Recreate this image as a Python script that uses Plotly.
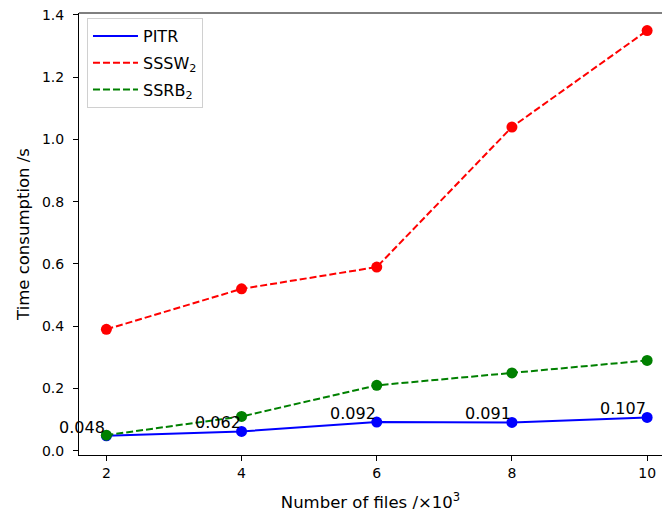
import plotly.graph_objects as go

files_k = [2, 4, 6, 8, 10]
pitr = [0.048, 0.062, 0.092, 0.091, 0.107]
sssw2 = [0.39, 0.52, 0.59, 1.04, 1.35]
ssrb2 = [0.05, 0.11, 0.21, 0.25, 0.29]
pitr_labels = ["0.048", "0.062", "0.092", "0.091", "0.107"]

FONT = "DejaVu Sans"
fig = go.Figure()

series = [
    ("PITR", pitr, "#0000ff", "solid"),
    ("SSSW<sub>2</sub>", sssw2, "#ff0000", "7px,3px"),
    ("SSRB<sub>2</sub>", ssrb2, "#008000", "7px,3px"),
]
for i, (name, ys, col, dash) in enumerate(series):
    fig.add_trace(go.Scatter(x=files_k, y=ys, mode="lines", name=name,
                             line=dict(color=col, width=2, dash=dash),
                             legendgroup=f"g{i}"))
for name, ys, col, dash in series:
    fig.add_trace(go.Scatter(x=files_k, y=ys, mode="markers", showlegend=False,
                             marker=dict(color=col, size=11, line=dict(width=0))))

# value labels for PITR: right-aligned just left of each point
for xv, yv, t in zip(files_k, pitr, pitr_labels):
    fig.add_annotation(x=xv, y=yv, text=t, showarrow=False,
                       xanchor="right", yanchor="bottom", xshift=1, yshift=-3,
                       font=dict(family=FONT, size=16, color="black"))

fig.update_layout(
    width=662, height=512,
    margin=dict(l=79, r=0, t=13, b=57),
    paper_bgcolor="white", plot_bgcolor="white",
    font=dict(family=FONT, size=14, color="black"),
    legend=dict(x=0.0137, y=0.9887, xanchor="left", yanchor="top",
                bgcolor="white", bordercolor="#d0d0d0", borderwidth=1,
                font=dict(family=FONT, size=16), tracegroupgap=3,
                itemwidth=45),
    showlegend=True,
)
fig.update_xaxes(range=[1.595, 10.22], tickvals=files_k, ticktext=[str(v) for v in files_k],
                 showgrid=False, zeroline=False, showline=True, linecolor="black",
                 linewidth=1, ticks="outside", ticklen=5, tickcolor="black",
                 tickfont=dict(family=FONT, size=14),
                 title=dict(text="Number of files /×10<sup>3</sup>", standoff=16,
                            font=dict(family=FONT, size=16.5)))
fig.update_yaxes(range=[-0.0138, 1.4064], tickvals=[0, 0.2, 0.4, 0.6, 0.8, 1.0, 1.2, 1.4],
                 tickformat=".1f",
                 showgrid=False, zeroline=False, showline=True, linecolor="black",
                 linewidth=1, ticks="outside", ticklen=5, tickcolor="black",
                 tickfont=dict(family=FONT, size=14), ticklabelstandoff=6,
                 title=dict(text="Time consumption /s", standoff=8,
                            font=dict(family=FONT, size=16.5)))
# top spine
fig.add_shape(type="line", xref="paper", yref="paper", x0=0, x1=1, y0=1, y1=1,
              line=dict(color="black", width=1))

fig.write_html("out.html", config={"displayModeBar": False},
               post_script="document.body.style.margin='0';document.body.style.overflow='hidden';")
